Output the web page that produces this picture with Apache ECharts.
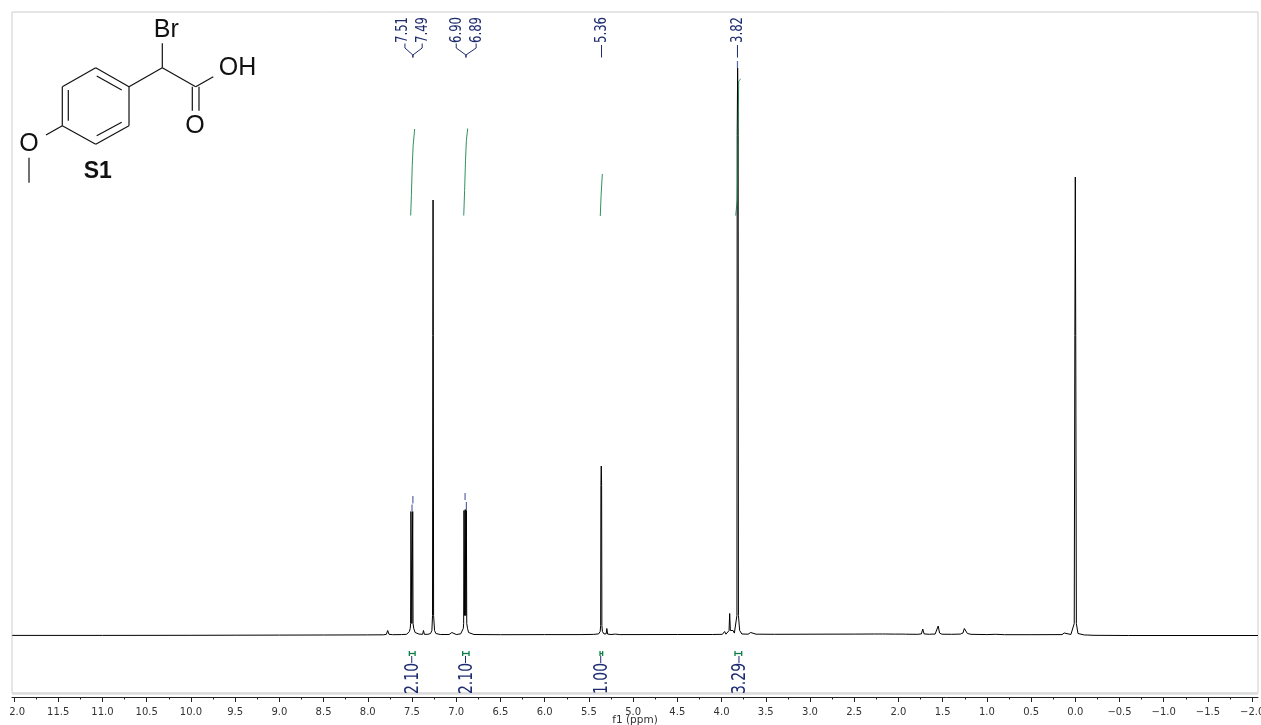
<!DOCTYPE html>
<html>
<head>
<meta charset="utf-8">
<style>
html,body{margin:0;padding:0;background:#fff;overflow:hidden}
#chart{position:absolute;left:10px;top:0;width:1251px;height:725px}
</style>
<script src="https://cdn.jsdelivr.net/npm/echarts@6/dist/echarts.min.js"></script>
</head>
<body>
<div id="chart"></div>
<script>
// x-axis ticks (ppm)
const majorTicks = [12,11.5,11,10.5,10,9.5,9,8.5,8,7.5,7,6.5,6,5.5,5,4.5,4,3.5,3,2.5,2,1.5,1,0.5,0,-0.5,-1,-1.5,-2];
const minorTicks = [11.75,11.25,10.75,10.25,9.75,9.25,8.75,8.25,7.75,7.25,6.75,6.25,5.75,5.25,4.75,4.25,3.75,3.25,2.75,2.25,1.75,1.25,0.75,0.25,-0.25,-0.75,-1.25,-1.75];

// spectrum trace: [ppm, intensity]
const spectrum = [
[12.02,0.1],[11,0.1],[10,0.2],[9.5,0.3],[9,0.4],[8.5,0.5],[8,0.6],[7.82,0.7],[7.79,1.2],[7.775,5],[7.76,1.2],[7.72,0.8],
[7.62,0.9],[7.56,1.2],[7.54,2.5],[7.53,4],[7.52,7],[7.516,12],[7.512,124],[7.502,12],[7.492,124],[7.488,12],[7.48,7],[7.465,3],[7.45,2],[7.42,1.4],
[7.38,1.2],[7.37,5],[7.36,1.2],[7.32,1.2],[7.29,2],[7.275,5],[7.268,20],[7.265,300],[7.262,435.5],[7.259,300],[7.256,20],[7.245,5],[7.23,2],[7.18,1],
[7.08,1],[7.06,1.6],[7.05,3],[7.04,1.6],[7.0,1],[6.95,1.6],[6.93,3.5],[6.92,7],[6.916,12],[6.912,125],[6.905,20],[6.898,126],[6.892,20],[6.885,125],[6.881,12],[6.872,7],[6.86,3],[6.84,2],[6.8,1],
[6.5,0.8],[6,0.9],[5.6,0.9],[5.45,1.1],[5.39,1.6],[5.372,4],[5.367,10],[5.364,150],[5.36,169.5],[5.356,150],[5.353,10],[5.347,4],[5.33,1.6],[5.305,1.6],[5.297,7],[5.288,1.4],[5.25,1],[5.2,1.4],[5.15,0.9],
[4.5,1],[4.1,1],[3.99,1.2],[3.965,4],[3.95,1.3],[3.93,1.5],[3.915,5],[3.908,22],[3.9,5],[3.885,3],[3.87,5],[3.855,2.4],[3.84,3.5],[3.826,20],[3.823,500],[3.818,567.5],[3.812,500],[3.809,20],[3.795,5],[3.77,1.5],[3.7,1.3],
[3.68,1.3],[3.67,3],[3.66,1.3],[3.61,1.3],[3.595,3],[3.58,1.3],[3.4,1.2],[3,1.3],[2.5,1.4],[2.27,1.5],[2.25,2.5],[2.23,1.5],
[2.18,1.5],[2.17,2.5],[2.15,1.5],[2.06,1.4],[2.05,2],[2.03,1.4],[1.95,1.4],[1.937,3],[1.92,1.3],[1.78,1.2],[1.74,1.6],[1.725,6.5],[1.71,1.6],[1.65,1.2],
[1.62,1.4],[1.605,3],[1.585,1.4],[1.57,2.5],[1.55,9.5],[1.535,2.5],[1.51,1.3],[1.4,1.2],[1.3,1.4],[1.27,2.5],[1.255,7],[1.24,7],[1.22,2],[1.18,1.2],
[1,0.9],[0.9,1.2],[0.8,0.8],[0.5,0.8],[0.15,0.9],[0.125,2.5],[0.11,0.9],[0.05,1],[0.03,2],[0.012,12],[0.005,300],[0,458.5],[-0.005,300],[-0.012,12],[-0.03,2],[-0.05,0.7],[-0.105,0.5],[-0.12,2],[-0.135,0.5],[-0.2,0.2],[-0.6,0],[-2.066,0]
];

// integral traces: [ppm, running integral height]
const integralA = [[7.515,420],[7.507,440],[7.497,470],[7.487,490],[7.47,506.5]];
const integralB = [[6.915,420],[6.905,445],[6.895,475],[6.885,495],[6.87,507]];
const integralC = [[5.371,419.5],[5.362,440],[5.348,461.5]];
const integralD = [[3.84,420],[3.822,435.5],[3.806,554.5],[3.783,556.5]];

// peak picks
const peakTexts   = ['7.51','7.49','6.90','6.89','5.36','3.82'];
const peakTextPpm = [7.605,7.38,7.0,6.775,5.36,3.825];
const peakArmPpm  = [7.58,7.385,7.0,6.775,5.357,3.82];
const peakJoinPpm = [7.49,7.49,6.89,6.89,5.357,3.82];
// peak-pick marks sitting on the peak tops: [ppm, lower value, upper value]
const peakMarks = [[7.49,132,139.5],[7.50,124.5,131],[6.90,135.5,142.5],[6.885,125.5,133.5],[3.82,567.5,574.5]];

// integral labels
const integralTexts = ['2.10','2.10','1.00','3.29'];
const integralPpm   = [7.503,6.895,5.366,3.803];
const integralFrom  = [7.53,6.927,5.374,3.848];
const integralTo    = [7.465,6.855,5.344,3.772];

const navy = '#1d2b6f', green = '#0c7d45';
const minX = (1075.3-1258)/88.44, maxX = (1075.3-12)/88.44;
const OX = -10; // page offset of the canvas

const el = document.getElementById('chart');
const chart = echarts.init(el, null, {renderer:'canvas'});

function seg(p, s, w){ return {type:'polyline', shape:{points:p}, style:{stroke:s, lineWidth:w||1, fill:null}, silent:true}; }

const bond = (a,b,c,d)=>({type:'line', shape:{x1:a+OX,y1:b,x2:c+OX,y2:d}, style:{stroke:'#111',lineWidth:1.2}});
const atom = (t,x,y,s,b)=>({type:'text', x:x+OX, y:y, style:{text:t, font:(b?'bold ':'')+s+'px "Liberation Sans"', fill:'#111', align:'center', verticalAlign:'middle'}});
const molecule = [
 bond(95.7,67.7,129,86.7),bond(129,86.7,129,125.7),bond(129,125.7,95.7,144.3),bond(95.7,144.3,62.3,125.7),bond(62.3,125.7,62.3,86.7),bond(62.3,86.7,95.7,67.7),
 bond(96.7,76,121.7,90),bond(68.3,90,68.3,120.7),bond(96.7,135.7,121.7,122.3),
 bond(129,86.7,162.3,67.7),bond(162.3,67.7,162.3,43.3),bond(162.3,67.7,195.7,86.7),bond(195.7,86.7,213.3,76.7),
 bond(192.3,86.7,192.3,110.7),bond(199,86.7,199,110.7),bond(62.3,125.7,46,135),bond(29,157.7,29,182.7),
 atom('Br',166.3,30,25),atom('OH',237.5,68,25),atom('O',195,126,25),atom('O',29,144,25),atom('S1',97.7,171.7,23,true),
 {type:'line',shape:{x1:12+OX,y1:693.5,x2:1258+OX,y2:693.5},style:{stroke:'#dddddd',lineWidth:2.5},z:1}
];

const intLine = d => ({type:'line', data:d, symbol:'none', silent:true, z:4, clip:false, lineStyle:{color:green,width:1,opacity:0.85}});

chart.setOption({
 animation:false,
 backgroundColor:'#fff',
 grid:{left:2,right:3,top:12,bottom:32,show:true,borderColor:'#cccccc',borderWidth:1,backgroundColor:'transparent',containLabel:false,outerBoundsMode:'none'},
 xAxis:[{
  type:'value',min:minX,max:maxX,inverse:true,position:'bottom',offset:4,
  splitLine:{show:false},
  axisLine:{show:true,onZero:false,lineStyle:{color:'#222',width:1}},
  axisTick:{show:true,length:5,lineStyle:{color:'#222',width:1},customValues:majorTicks},
  axisLabel:{show:true,margin:10,color:'#333',fontFamily:'DejaVu Sans',fontSize:10,customValues:majorTicks,hideOverlap:false,
   formatter:v=>(v<0?'\u2212':'')+Math.abs(v).toFixed(1)},
  name:'f1 (ppm)',nameLocation:'middle',nameGap:18,nameMoveOverlap:false,nameTextStyle:{color:'#333',fontFamily:'DejaVu Sans',fontSize:10.5}
 },{
  type:'value',min:minX,max:maxX,inverse:true,position:'bottom',offset:4,
  splitLine:{show:false},axisLine:{show:false,onZero:false},axisLabel:{show:false},
  axisTick:{show:true,length:2.5,lineStyle:{color:'#222',width:1},customValues:minorTicks}
 }],
 yAxis:{type:'value',min:-57.5,max:623.5,show:false,splitLine:{show:false}},
 graphic:{elements:molecule},
 series:[
  {type:'line',data:spectrum,symbol:'none',silent:true,z:3,lineStyle:{color:'#000',width:1}},
  intLine(integralA),intLine(integralB),intLine(integralC),intLine(integralD),
  {type:'custom',silent:true,z:5,clip:false,data:peakTexts.map((t,i)=>[peakTextPpm[i],0]),
   renderItem:(p,api)=>{
    const i=p.dataIndex, tx=api.coord([peakTextPpm[i],0])[0], ax=api.coord([peakArmPpm[i],0])[0], jx=api.coord([peakJoinPpm[i],0])[0];
    const pts = Math.abs(ax-jx)<1 ? [[jx,45],[jx,57.5]] : [[ax,43.5],[ax,48],[jx,55],[jx,57.5]];
    return {type:'group',children:[
     seg(pts,navy,1),
     {type:'text',x:tx+0.5,y:30,rotation:Math.PI/2,scaleY:1.35,silent:true,
      style:{text:peakTexts[i],font:'11.7px "DejaVu Sans"',fill:navy,align:'center',verticalAlign:'middle'}}
    ]};
   },encode:{x:0,y:1}},
  {type:'custom',silent:true,z:6,clip:false,data:peakMarks,
   renderItem:(p,api)=>{
    const a=api.coord([api.value(0),api.value(1)]), b=api.coord([api.value(0),api.value(2)]);
    return seg([a,b],'#5866a6',1.2);
   },encode:{x:0,y:1}},
  {type:'custom',silent:true,z:5,clip:false,data:integralTexts.map((t,i)=>[integralPpm[i],0]),
   renderItem:(p,api)=>{
    const i=p.dataIndex, x=api.coord([integralPpm[i],0])[0], a=api.coord([integralFrom[i],0])[0], b=api.coord([integralTo[i],0])[0];
    return {type:'group',children:[
     seg([[a,651],[a,656]],green,1.3),seg([[b,651],[b,656]],green,1.3),seg([[a,653.5],[b,653.5]],green,1.3),
     seg([[x,656],[x,663]],navy,1),
     {type:'text',x:x+1.5,y:678.5,rotation:Math.PI/2,scaleY:1.37,silent:true,
      style:{text:integralTexts[i],font:'14px "DejaVu Sans"',fill:navy,align:'center',verticalAlign:'middle'}}
    ]};
   },encode:{x:0,y:1}}
 ]
});
</script>
</body>
</html>
